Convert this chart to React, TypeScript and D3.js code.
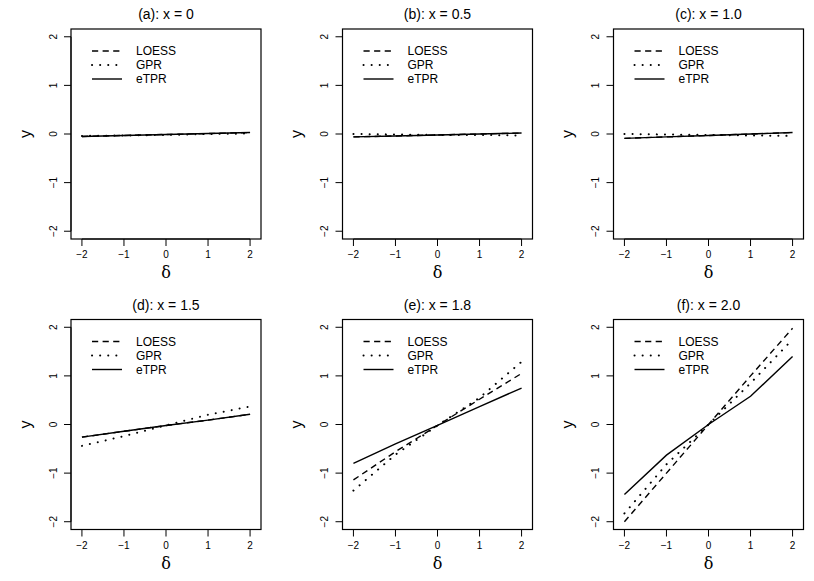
import React from 'react';
import * as d3 from 'd3';

// delta grid the curves are evaluated on
const deltas = [-2, -1, 0, 1, 2];

const panelTitles = [
  '(a): x = 0',
  '(b): x = 0.5',
  '(c): x = 1.0',
  '(d): x = 1.5',
  '(e): x = 1.8',
  '(f): x = 2.0',
];

const loessValues = [
  [-0.05, -0.03, -0.01, 0.01, 0.03],
  [-0.06, -0.04, -0.02, 0.0, 0.02],
  [-0.09, -0.06, -0.03, 0.0, 0.03],
  [-0.26, -0.14, -0.02, 0.09, 0.21],
  [-1.14, -0.56, -0.02, 0.52, 1.05],
  [-2.0, -1.0, 0.0, 1.0, 1.98],
];

const gprValues = [
  [-0.04, -0.03, -0.02, 0.0, 0.01],
  [0.0, -0.01, -0.02, -0.02, -0.03],
  [0.0, -0.01, -0.02, -0.03, -0.04],
  [-0.44, -0.24, -0.02, 0.2, 0.37],
  [-1.36, -0.62, -0.02, 0.55, 1.29],
  [-1.83, -0.82, 0.0, 0.85, 1.75],
];

const etprValues = [
  [-0.05, -0.03, -0.01, 0.01, 0.03],
  [-0.06, -0.04, -0.02, 0.0, 0.02],
  [-0.09, -0.06, -0.03, 0.0, 0.03],
  [-0.26, -0.14, -0.02, 0.09, 0.21],
  [-0.8, -0.4, -0.02, 0.37, 0.75],
  [-1.44, -0.63, 0.0, 0.58, 1.4],
];

const seriesNames = ['LOESS', 'GPR', 'eTPR'];
const xTicks = [-2, -1, 0, 1, 2];
const yTicks = [-2, -1, 0, 1, 2];

const W = 814;
const H = 581;
const colLeft = [71, 342.5, 613.5];
const rowTop = [29, 319.5];
const boxW = 190;
const boxH = 210;

const font = '"Liberation Sans", Arial, Helvetica, sans-serif';
// LOESS dashed, GPR dotted, eTPR solid
const styles = [
  { dash: '6.2 4.4', cap: 'butt', width: 1.4 },
  { dash: '0.1 8', cap: 'round', width: 2 },
  { dash: undefined, cap: 'butt', width: 1.4 },
];

const fmt = (v: number) => (v < 0 ? '\u2212' + Math.abs(v) : String(v));

const Panel: React.FC<{ idx: number }> = ({ idx }) => {
  const L = colLeft[idx % 3];
  const T = rowTop[Math.floor(idx / 3)];
  const x = d3.scaleLinear().domain([-2.26, 2.26]).range([L, L + boxW]);
  const y = d3.scaleLinear().domain([-2.16, 2.16]).range([T + boxH, T]);
  const line = d3
    .line<number>()
    .x((_, i) => x(deltas[i]))
    .y((d) => y(d));
  const curves = [loessValues[idx], gprValues[idx], etprValues[idx]];
  const B = T + boxH;

  return (
    <g>
      <text x={L + boxW / 2} y={T - 10} textAnchor="middle" fontFamily={font} fontSize={14}>
        {panelTitles[idx]}
      </text>
      {curves.map((c, i) => (
        <path
          key={i}
          d={line(c) || ''}
          fill="none"
          stroke="#000"
          strokeWidth={styles[i].width}
          strokeLinecap={styles[i].cap as any}
          strokeDasharray={styles[i].dash}
        />
      ))}
      <rect x={L} y={T} width={boxW} height={boxH} fill="none" stroke="#000" strokeWidth={1.2} />
      {/* x axis */}
      <line x1={x(-2)} x2={x(2)} y1={B} y2={B} stroke="#000" />
      {xTicks.map((t) => (
        <g key={t}>
          <line x1={x(t)} x2={x(t)} y1={B} y2={B + 7} stroke="#000" />
          <text x={x(t)} y={B + 19} textAnchor="middle" fontFamily={font} fontSize={10}>
            {fmt(t)}
          </text>
        </g>
      ))}
      <text
        x={x(0)}
        y={B + 39}
        textAnchor="middle"
        fontFamily='"DejaVu Serif", "Liberation Serif", serif'
        fontSize={16}
      >
        δ
      </text>
      {/* y axis */}
      <line x1={L} x2={L} y1={y(-2)} y2={y(2)} stroke="#000" />
      {yTicks.map((t) => (
        <g key={t}>
          <line x1={L - 7} x2={L} y1={y(t)} y2={y(t)} stroke="#000" />
          <text
            transform={`translate(${L - 18},${y(t)}) rotate(-90)`}
            textAnchor="middle"
            dy="0.35em"
            fontFamily={font}
            fontSize={10}
          >
            {fmt(t)}
          </text>
        </g>
      ))}
      <text
        transform={`translate(${L - 46},${y(0)}) rotate(-90)`}
        textAnchor="middle"
        dy="0.35em"
        fontFamily={font}
        fontSize={16}
      >
        y
      </text>
      {/* legend */}
      {seriesNames.map((name, i) => (
        <g key={name}>
          <line
            x1={L + 21}
            x2={L + 51}
            y1={T + 22 + i * 14}
            y2={T + 22 + i * 14}
            stroke="#000"
            strokeWidth={styles[i].width}
            strokeLinecap={styles[i].cap as any}
            strokeDasharray={styles[i].dash}
          />
          <text x={L + 65} y={T + 22 + i * 14} dy="0.35em" fontFamily={font} fontSize={12}>
            {name}
          </text>
        </g>
      ))}
    </g>
  );
};

export default function App() {
  return (
    <svg
      width={W}
      height={H}
      style={{ position: 'absolute', left: 0, top: 0, background: '#fff' }}
    >
      <rect width={W} height={H} fill="#fff" />
      {panelTitles.map((_, i) => (
        <Panel key={i} idx={i} />
      ))}
    </svg>
  );
}
